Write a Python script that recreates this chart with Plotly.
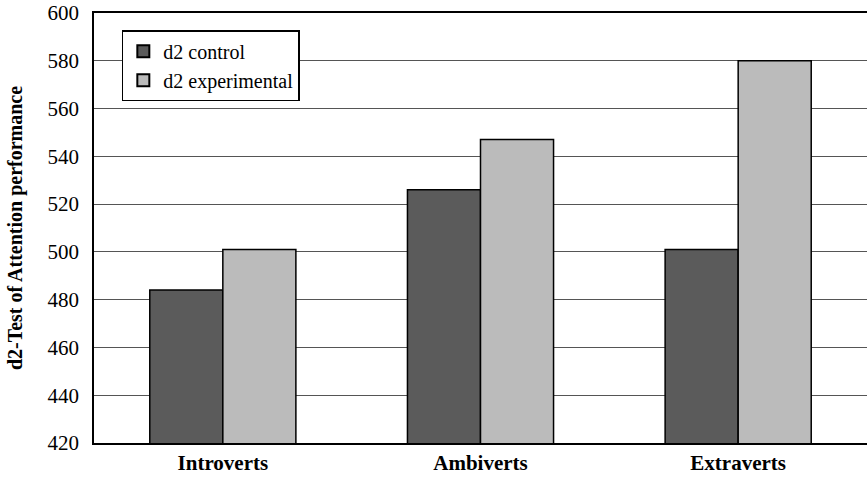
import plotly.graph_objects as go

categories = ["Introverts", "Ambiverts", "Extraverts"]
control = [484, 526, 501]
experimental = [501, 547, 580]
series_names = ["d2 control", "d2 experimental"]
y_ticks = [420, 440, 460, 480, 500, 520, 540, 560, 580, 600]

SERIF = "Liberation Serif, Times New Roman, Times, DejaVu Serif, serif"

fig = go.Figure()
fig.add_trace(go.Bar(x=categories, y=control, name=series_names[0],
                     marker=dict(color="#5b5b5b", line=dict(color="black", width=1.5))))
fig.add_trace(go.Bar(x=categories, y=experimental, name=series_names[1],
                     marker=dict(color="#bbbbbb", line=dict(color="black", width=1.5))))

fig.update_layout(
    width=868, height=481,
    margin=dict(l=94, r=1, t=13, b=38, autoexpand=False),
    paper_bgcolor="white", plot_bgcolor="white",
    barmode="group", bargap=0.433, bargroupgap=0,
    font=dict(family=SERIF, size=21, color="black"),
    showlegend=True,
    legend=dict(x=0.036, y=0.96, xanchor="left", yanchor="top",
                bordercolor="black", borderwidth=1.5, bgcolor="white",
                font=dict(size=20, family=SERIF), tracegroupgap=0, itemsizing="constant"),
    xaxis=dict(showline=True, linecolor="black", linewidth=1.5, mirror=True,
               automargin=False,
               ticks="", tickfont=dict(size=21, family=SERIF),
               tickprefix="<b>", ticksuffix="</b>"),
    yaxis=dict(range=[420, 600], tickvals=y_ticks, showgrid=True,
               gridcolor="#555555", gridwidth=1, showline=True, linecolor="black",
               linewidth=1.5, mirror=False, ticks="", automargin=False,
               ticklabelstandoff=9,
               tickfont=dict(size=21, family=SERIF),
               title=dict(text="<b>d2-Test of Attention performance</b>",
                          font=dict(size=20, family=SERIF), standoff=20)),
)

fig.write_html("out.html", config={"displayModeBar": False},
               post_script="document.body.style.margin='0';document.body.style.padding='0';")
